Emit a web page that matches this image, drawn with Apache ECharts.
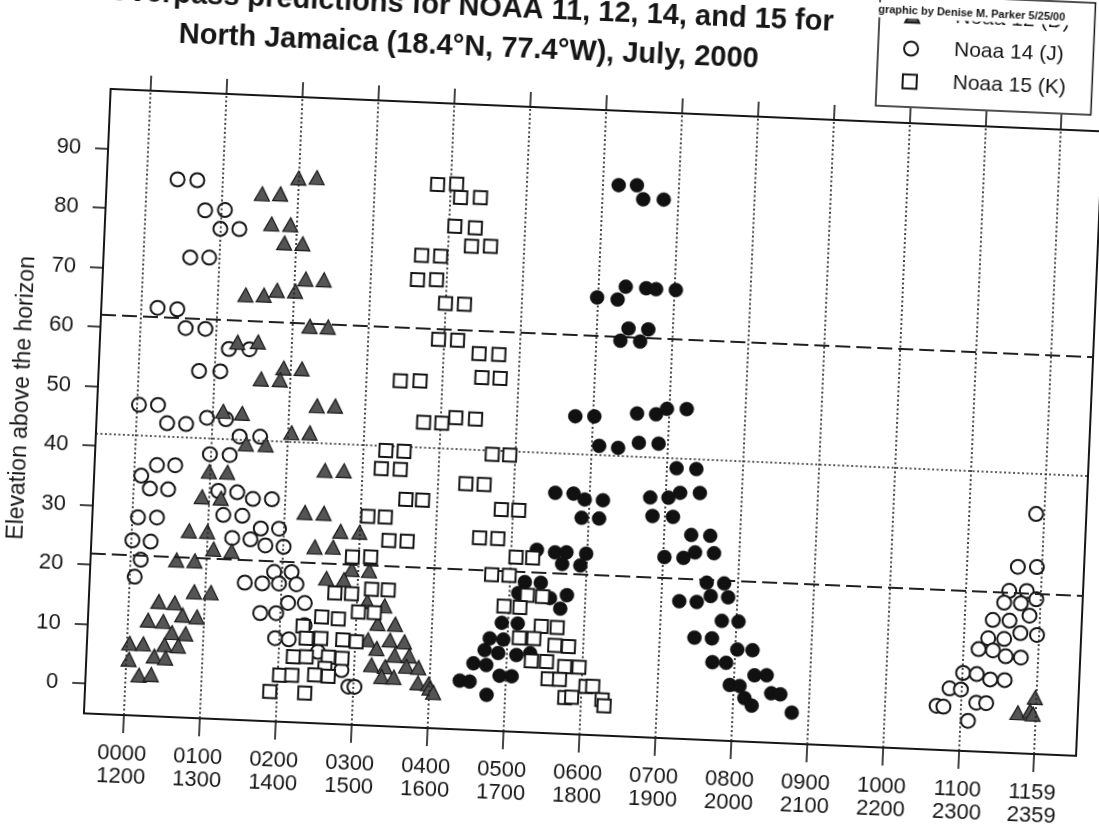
<!DOCTYPE html>
<html>
<head>
<meta charset="utf-8">
<script src="https://cdn.jsdelivr.net/npm/echarts@6/dist/echarts.min.js"></script>
<style>
html,body{margin:0;padding:0;width:1099px;height:835px;overflow:hidden;background:#ffffff;}
#chart{position:absolute;left:-50px;top:-80px;width:1199px;height:995px;transform:rotate(2.45deg);transform-origin:50% 50%;}
</style>
</head>
<body>
<div id="chart"></div>
<script>
// ---- Data (hour of day 0-12 scale, elevation in degrees) ----
const hourTicks = [0,1,2,3,4,5,6,7,8,9,10,11,11.983];
const timeLabelsAM = ['0000','0100','0200','0300','0400','0500','0600','0700','0800','0900','1000','1100','1159'];
const timeLabelsPM = ['1200','1300','1400','1500','1600','1700','1800','1900','2000','2100','2200','2300','2359'];
const elevationTicks = [0,10,20,30,40,50,60,70,80,90];
const dashedLevels = [62,22];
const dottedLevels = [42];

const titleLine1 = 'Overpass predictions for NOAA 11, 12, 14, and 15 for';
const titleLine2 = 'North Jamaica (18.4\u00B0N, 77.4\u00B0W), July, 2000';
const creditText = 'graphic by Denise M. Parker 5/25/00';
const yAxisTitle = 'Elevation above the horizon';

// NOAA 11 (filled circles)
const noaa11 = [[6.21,87.5],[6.45,87.6],[6.54,85.3],[6.81,85.4],[5.99,68.5],[6.26,68.3],[6.36,70.5],[6.63,70.4],[6.76,70.3],[7.02,70.3],
[6.42,63.5],[6.68,63.5],[6.32,61.4],[6.58,61.4],[5.77,48.4],[6.02,48.5],[6.58,49.3],[6.83,49.3],[6.97,50.3],[7.23,50.4],
[6.10,43.6],[6.35,43.4],[6.62,44.4],[6.88,44.4],[7.13,40.4],[7.39,40.4],[5.55,35.4],[5.79,35.4],[5.94,34.5],[6.18,34.5],
[6.80,35.3],[7.04,35.4],[7.19,36.3],[7.45,36.4],[5.91,31.4],[6.14,31.4],[6.84,32.2],[7.11,32.2],[7.36,29.3],[7.61,29.3],
[5.34,25.7],[5.58,25.4],[5.73,25.5],[5.99,25.4],[5.68,23.5],[5.92,23.4],[7.02,25.4],[7.27,25.4],[7.42,26.4],[7.67,26.4],
[5.20,20.2],[5.41,20.2],[5.12,18.3],[5.54,17.7],[5.76,18.3],[5.68,16.0],[7.59,21.4],[7.82,21.4],[7.24,18.1],[7.47,18.1],
[7.65,19.2],[7.88,19.1],[4.92,13.2],[5.13,13.2],[7.81,15.1],[8.03,15.1],[4.77,10.5],[4.95,10.4],[7.46,12.1],[7.69,12.1],
[4.71,8.5],[4.89,8.1],[5.13,7.9],[5.31,8.3],[8.03,10.4],[8.23,10.4],[4.57,6.2],[4.74,6.0],[7.71,8.1],[7.89,8.1],
[4.92,4.3],[5.08,4.3],[8.27,6.2],[8.43,6.3],[4.40,3.2],[4.53,3.1],[7.95,4.4],[8.08,4.3],[4.76,1.0],[8.50,3.3],
[8.62,3.2],[8.15,2.3],[8.25,1.1],[8.78,0.2]];

// NOAA 12 (D) (grey triangles)
const noaa12 = [[2.00,86.4],[2.24,86.6],[1.53,83.5],[1.77,83.6],[1.67,78.5],[1.92,78.5],[1.85,75.4],[2.09,75.4],[2.15,69.5],[2.39,69.5],
[1.37,66.4],[1.61,66.5],[1.78,67.4],[2.02,67.4],[2.23,61.6],[2.47,61.6],[1.29,58.4],[1.56,58.6],[1.91,54.4],[2.15,54.4],
[1.62,52.4],[1.87,52.4],[2.37,48.3],[2.61,48.4],[1.14,46.7],[1.39,46.5],[2.05,43.6],[2.29,43.7],[1.46,41.4],[1.72,41.4],
[0.99,36.5],[1.23,36.5],[2.51,37.5],[2.76,37.6],[0.91,32.2],[1.16,32.1],[2.27,30.3],[2.52,30.3],[0.76,26.4],[1.00,26.4],
[2.75,27.4],[3.00,27.4],[1.09,23.5],[1.33,23.3],[2.42,24.6],[2.66,24.7],[0.61,21.4],[0.85,21.4],[2.92,21.1],[3.15,21.0],
[2.59,19.4],[2.82,19.3],[0.86,16.2],[1.08,16.2],[0.40,14.3],[0.61,14.2],[3.14,15.8],[3.37,15.2],[0.27,11.1],[0.47,11.0],
[0.72,12.2],[0.91,12.0],[3.29,12.2],[3.52,12.2],[0.59,9.2],[0.77,9.1],[0.04,7.1],[0.22,7.1],[0.50,7.1],[0.68,7.0],
[3.46,9.5],[3.65,9.3],[3.17,9.4],[3.29,8.0],[0.37,5.1],[0.52,4.9],[0.04,4.4],[3.53,7.0],[3.72,7.0],[3.23,5.2],
[3.41,5.0],[3.69,5.2],[3.85,5.1],[0.18,1.8],[0.34,2.0],[3.37,3.3],[3.53,3.3],[3.85,2.5],[3.99,2.4],[4.01,1.7],
[4.06,1.0],[11.97,4.5],[11.75,1.8],[11.91,2.2],[11.95,1.7]];

// NOAA 14 (J) (open circles)
const noaa14 = [[0.41,85.3],[0.67,85.3],[0.79,80.3],[1.05,80.5],[1.00,77.3],[1.25,77.4],[0.62,72.3],[0.87,72.4],[0.22,63.6],[0.48,63.5],
[0.60,60.4],[0.86,60.4],[1.18,57.2],[1.45,57.3],[0.80,53.3],[1.08,53.4],[0.03,47.2],[0.28,47.3],[0.41,44.3],[0.66,44.3],
[0.93,45.5],[1.18,45.4],[1.37,42.6],[1.64,42.7],[0.99,39.4],[1.25,39.4],[0.30,37.2],[0.54,37.3],[0.10,35.3],[0.22,33.2],
[0.46,33.2],[1.12,33.3],[1.37,33.2],[1.58,32.2],[1.83,32.3],[0.08,28.3],[0.33,28.4],[1.20,29.3],[1.45,29.3],[1.70,27.3],
[1.94,27.4],[0.02,24.4],[0.26,24.3],[1.33,25.5],[1.57,25.4],[1.77,24.5],[2.01,24.4],[0.14,21.2],[0.07,18.3],[1.90,20.1],
[2.13,20.2],[1.52,18.1],[1.75,18.1],[1.97,18.2],[2.20,18.2],[2.10,15.0],[2.32,15.1],[1.74,13.1],[1.95,13.2],[1.95,9.0],
[2.13,8.9],[2.33,11.4],[2.52,7.0],[2.84,4.1],[2.94,1.4],[3.02,1.4],
[11.88,35.3],[11.67,26.3],[11.92,26.4],[11.57,22.2],[11.80,22.3],[11.93,21.0],[11.51,20.2],[11.73,20.2],[11.85,18.2],[11.37,17.2],
[11.59,17.2],[11.74,15.2],[11.96,15.0],[11.32,14.1],[11.53,14.1],[11.20,12.2],[11.39,12.1],[11.56,11.2],[11.76,11.1],[11.01,8.1],
[11.19,8.0],[11.37,7.2],[11.56,7.2],[10.84,5.4],[10.99,5.3],[11.20,3.2],[11.33,3.2],[10.68,2.4],[10.77,2.3],[11.10,0.1]];

// NOAA 15 (K) (open squares)
const noaa15 = [[3.83,86.3],[4.08,86.5],[4.14,84.3],[4.40,84.4],[4.08,79.4],[4.35,79.3],[4.31,76.2],[4.56,76.3],[3.66,74.3],[3.91,74.3],
[3.62,70.2],[3.87,70.3],[4.00,66.4],[4.25,66.4],[3.93,60.3],[4.18,60.3],[4.47,58.2],[4.73,58.2],[3.45,53.1],[3.71,53.2],
[4.52,54.2],[4.76,54.2],[3.78,46.3],[4.02,46.3],[4.20,47.3],[4.46,47.2],[3.30,41.3],[3.54,41.3],[3.25,38.2],[3.50,38.2],
[4.70,41.4],[4.93,41.4],[4.37,36.3],[4.61,36.3],[3.59,33.2],[3.81,33.2],[4.85,32.2],[5.08,32.2],[3.10,30.1],[3.33,30.1],
[4.58,27.3],[4.82,27.3],[3.39,26.2],[3.63,26.2],[2.92,23.2],[3.16,23.3],[5.07,24.3],[5.29,24.3],[4.76,21.2],[4.99,21.2],
[2.71,17.0],[2.93,17.0],[3.19,17.9],[3.41,17.9],[5.24,18.0],[5.44,17.9],[4.94,16.0],[5.15,15.9],[2.55,12.9],[2.77,12.7],
[3.03,14.0],[3.24,14.0],[5.44,12.9],[5.65,12.8],[2.31,11.2],[2.36,9.2],[2.55,9.3],[2.84,9.2],[3.02,9.0],[5.16,10.8],
[5.35,10.8],[5.63,9.8],[5.81,9.7],[2.20,6.0],[2.37,6.1],[2.66,6.2],[2.84,6.1],[5.33,7.0],[5.53,7.0],[5.77,6.3],
[5.96,6.3],[2.62,4.3],[2.03,2.8],[2.19,2.9],[2.49,3.1],[2.67,3.0],[5.56,4.1],[5.71,4.1],[1.91,0.0],[2.37,0.0],
[6.06,3.1],[6.15,3.2],[5.79,1.1],[5.88,1.2],[6.28,1.0],[6.31,0.0]];

// ---- Chart ----
const FONT = '"Liberation Sans", Arial, Helvetica, sans-serif';
const INK = '#161616';
const dottedStyle = {color:'#262626', width:1.7, type:[2,2.5], opacity:1};
const dashedStyle = {color:'#202020', width:2.2, type:[15,6], opacity:1};

const guideLines = [].concat(
  hourTicks.map(v => ({xAxis: v, lineStyle: dottedStyle})),
  dottedLevels.map(v => ({yAxis: v, lineStyle: dottedStyle})),
  dashedLevels.map(v => ({yAxis: v, lineStyle: dashedStyle}))
);

function timeLabel(v) {
  const i = hourTicks.findIndex(t => Math.abs(t - v) < 1e-6);
  return i < 0 ? '' : timeLabelsAM[i] + '\n' + timeLabelsPM[i];
}

const chart = echarts.init(document.getElementById('chart'), null, {renderer:'canvas'});
chart.setOption({
  animation: false,
  backgroundColor: '#ffffff',
  title: {
    text: titleLine1 + '\n' + titleLine2,
    left: 503, top: 71, textAlign: 'center', padding: 0,
    textStyle: {fontFamily: FONT, fontSize: 29, fontWeight: 'bold', lineHeight: 40, color: INK}
  },
  legend: {
    data: ['Noaa 12 (D)', 'Noaa 14 (J)', 'Noaa 15 (K)'],
    orient: 'vertical', left: 912, top: 60,
    itemWidth: 14, itemHeight: 14, itemGap: 12,
    padding: [10, 25, 15, 25],
    borderColor: INK, borderWidth: 1.5, backgroundColor: '#ffffff',
    selectedMode: false,
    textStyle: {fontFamily: FONT, fontSize: 21, lineHeight: 21, color: INK, padding: [0, 0, 0, 31]}
  },
  graphic: [{
    type: 'text', x: 1004, y: 76, z: 100,
    style: {
      text: creditText, font: 'bold 11px ' + FONT, fill: INK,
      align: 'center', verticalAlign: 'middle',
      backgroundColor: '#ffffff', padding: [2, 4]
    }
  }],
  grid: {
    left: 147, top: 188, width: 993, height: 625,
    show: true, borderColor: INK, borderWidth: 2, backgroundColor: 'transparent'
  },
  xAxis: [{
    type: 'value', min: -0.52, max: 12.54, position: 'bottom',
    axisLine: {show: true, onZero: false, lineStyle: {color: INK, width: 2}},
    axisTick: {show: true, inside: false, length: 18, customValues: hourTicks, lineStyle: {color: INK, width: 1.6}},
    axisLabel: {show: true, customValues: hourTicks, formatter: timeLabel, margin: 27,
      fontFamily: FONT, fontSize: 22, lineHeight: 23, color: INK},
    splitLine: {show: false}
  }, {
    type: 'value', min: -0.52, max: 12.54, position: 'top',
    axisLine: {show: true, onZero: false, lineStyle: {color: INK, width: 2}},
    axisTick: {show: true, inside: false, length: 15, customValues: hourTicks, lineStyle: {color: INK, width: 1.6}},
    axisLabel: {show: false},
    splitLine: {show: false}
  }],
  yAxis: {
    type: 'value', min: -5, max: 100,
    name: yAxisTitle, nameLocation: 'middle', nameGap: 64,
    nameTextStyle: {fontFamily: FONT, fontSize: 23, color: INK},
    axisLine: {show: true, onZero: false, lineStyle: {color: INK, width: 2}},
    axisTick: {show: true, inside: false, length: 13, customValues: elevationTicks, lineStyle: {color: INK, width: 1.6}},
    axisLabel: {show: true, customValues: elevationTicks, margin: 27, fontFamily: FONT, fontSize: 22, color: INK},
    splitLine: {show: false}
  },
  series: [{
    name: 'guides', type: 'line', data: [], z: 1, silent: true,
    markLine: {silent: true, symbol: 'none', label: {show: false}, animation: false, data: guideLines}
  }, {
    name: 'Noaa 14 (J)', type: 'scatter', data: noaa14, symbol: 'circle', symbolSize: 14, z: 3,
    itemStyle: {color: '#ffffff', borderColor: INK, borderWidth: 2, opacity: 1}
  }, {
    name: 'Noaa 12 (D)', type: 'scatter', data: noaa12, symbol: 'triangle', symbolSize: [15, 14], z: 4,
    itemStyle: {color: '#555555', borderColor: '#1a1a1a', borderWidth: 1.2, opacity: 1}
  }, {
    name: 'Noaa 11', type: 'scatter', data: noaa11, symbol: 'circle', symbolSize: 14, z: 5,
    itemStyle: {color: '#111111', borderColor: '#111111', borderWidth: 0.5, opacity: 1}
  }, {
    name: 'Noaa 15 (K)', type: 'scatter', data: noaa15, symbol: 'rect', symbolSize: 13, z: 6,
    itemStyle: {color: '#ffffff', borderColor: INK, borderWidth: 2, opacity: 1}
  }]
});
</script>
</body>
</html>
